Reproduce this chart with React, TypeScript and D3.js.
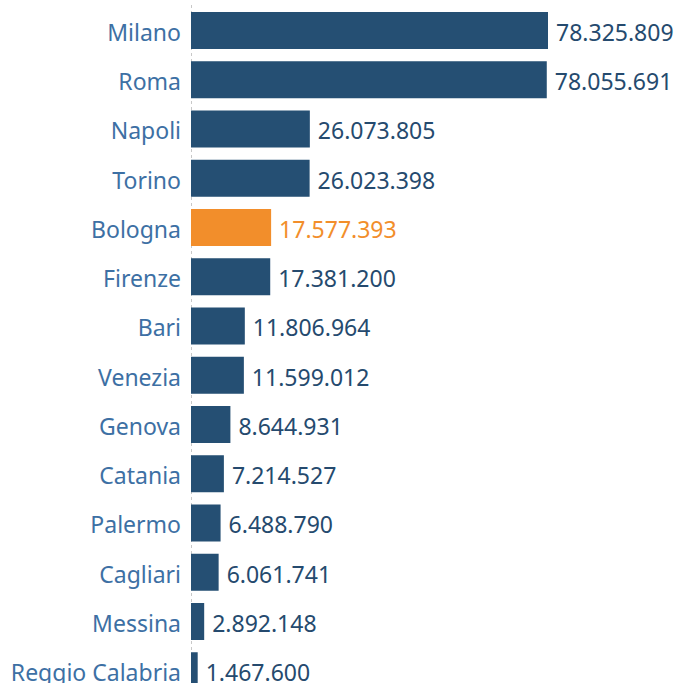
import React from "react";
import * as d3 from "d3";

const cities = ["Milano","Roma","Napoli","Torino","Bologna","Firenze","Bari","Venezia","Genova","Catania","Palermo","Cagliari","Messina","Reggio Calabria"];
const values = [78325809,78055691,26073805,26023398,17577393,17381200,11806964,11599012,8644931,7214527,6488790,6061741,2892148,1467600];
const highlight = ["Bologna"];

const W = 682, H = 683;

export default function App() {
  const x = d3.scaleLinear().domain([0, 78325809]).range([191, 548]);
  const step = 49.25;
  const pad = 12.25 / step;
  const y = d3.scaleBand().domain(cities)
    .range([12 - pad * step / 2, 12 - pad * step / 2 + step * cities.length])
    .paddingInner(pad).paddingOuter(pad / 2);
  const fmt = (v: number) => d3.format(",")(v).replace(/,/g, ".");
  const barColor = "#254f73";
  const orange = "#f28e2b";
  return (
    <svg width={W} height={H} style={{ position: "absolute", left: 0, top: 0, display: "block" }}
      fontFamily="'Noto Sans', sans-serif">
      <line x1={191.5} x2={191.5} y1={5} y2={H} stroke="#c8c8c8" strokeWidth={1} strokeDasharray="3,3" />
      {cities.map((c, i) => {
        const isH = highlight.includes(c);
        const yy = y(c)!;
        const cy = yy + y.bandwidth() / 2;
        return (
          <g key={c}>
            <rect x={x(0)} y={yy} width={x(values[i]) - x(0)} height={y.bandwidth()} fill={isH ? orange : barColor} />
            <text x={181} y={cy + 10.3} textAnchor="end" fontSize={23} fill="#3d70a4">{c}</text>
            <text x={x(values[i]) + 8} y={cy + 10.3} fontSize={23} fill={isH ? orange : "#254a6e"}>{fmt(values[i])}</text>
          </g>
        );
      })}
    </svg>
  );
}
